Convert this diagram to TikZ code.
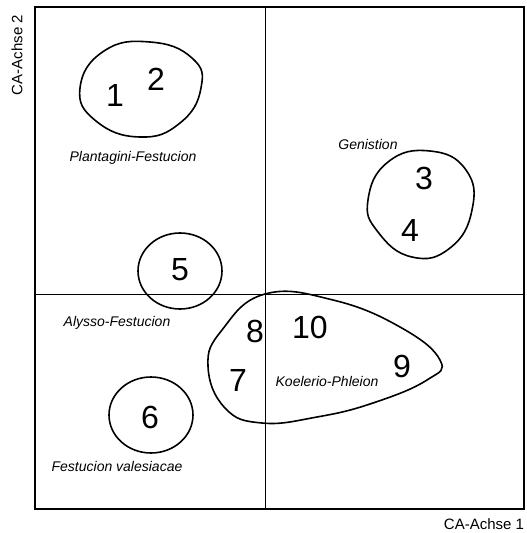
\documentclass[tikz,border=0pt]{standalone}
\usepackage{fontspec}
\setmainfont{Liberation Sans}
\begin{document}
\begin{tikzpicture}[x=0.75pt, y=-0.75pt,
  num/.style={font=\fontsize{24}{24}\selectfont, inner sep=0pt},
  group/.style={font=\fontsize{10.5}{12}\selectfont\itshape, inner sep=0pt},
  axlabel/.style={font=\fontsize{11.25}{13}\selectfont, inner sep=0pt},
  hull/.style={line width=1.2pt}]
\useasboundingbox (0,0) rectangle (526,533);

% frame and axes
\coordinate (tl) at (35,7);
\coordinate (br) at (524,509);
\coordinate (xl) at (35,294);
\coordinate (xr) at (524,294);
\coordinate (yt) at (265,7);
\coordinate (yb) at (265,509);
\draw[line width=0.8pt] (tl) rectangle (br);
\draw[line width=0.6pt] (xl) -- (xr);
\draw[line width=0.6pt] (yt) -- (yb);

\node[axlabel, rotate=90] (ca2) at (17,55) {CA-Achse 2};
\node[axlabel] (ca1) at (484,524) {CA-Achse 1};

% releves
\node[num] (n1) at (115,95) {1};
\node[num] (n2) at (156,79) {2};
\node[num] (n3) at (424,178) {3};
\node[num] (n4) at (410,230) {4};
\node[num] (n5) at (180,270) {5};
\node[num] (n6) at (150,417) {6};
\node[num] (n7) at (238,380) {7};
\node[num] (n8) at (255,331) {8};
\node[num] (n9) at (402,366) {9};
\node[num] (n10) at (310,327) {10};

% groups
\draw[hull] plot[smooth cycle, tension=0.8] coordinates
  {(80,88) (104,51) (150,42) (192,58) (201,88) (180,123) (140,137) (96,121)};
\draw[hull] plot[smooth cycle, tension=0.8] coordinates
  {(368,200) (388,162) (430,151) (466,170) (472,210) (450,248) (412,257) (378,232)};
\draw[hull] (180,271) ellipse [x radius=42, y radius=38];
\draw[hull] (151,415) ellipse [x radius=42, y radius=38];
\draw[hull] plot[smooth cycle, tension=0.75] coordinates
  {(208,366) (222,330) (265,294) (333,300) (400,327) (440,360) (427,380)
   (373,403) (317,417) (262,423) (225,408)};

\node[group] (plant) at (133,158) {Plantagini-Festucion};
\node[group] (genis) at (368,144) {Genistion};
\node[group] (alyss) at (117,323) {Alysso-Festucion};
\node[group] (koel) at (327,381) {Koelerio-Phleion};
\node[group] (fvale) at (117,466) {Festucion valesiacae};
\end{tikzpicture}
\end{document}
